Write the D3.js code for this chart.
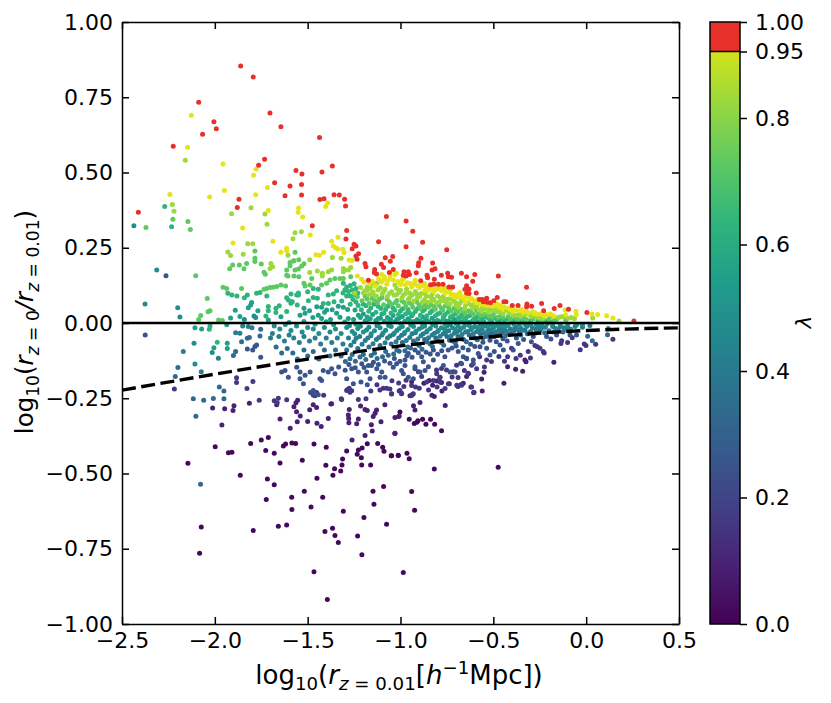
<!DOCTYPE html>
<html>
<head>
<meta charset="utf-8">
<script src="https://cdn.jsdelivr.net/npm/d3@7"></script>
<style>
  html, body { margin: 0; padding: 0; background: #fff; }
  text { font-family: "DejaVu Sans", sans-serif; fill: #000; }
</style>
</head>
<body>
<div id="plot"></div>
<script>
// axis ticks
var xTicks = [-2.5, -2, -1.5, -1, -0.5, 0, 0.5]
var yTicks = [-1, -0.75, -0.5, -0.25, 0, 0.25, 0.5, 0.75, 1]
var barTicks = [0, 0.2, 0.4, 0.6, 0.8, 0.95, 1]
var barLabels = ["0.0", "0.2", "0.4", "0.6", "0.8", "0.95", "1.00"]

// dashed curve
var curveX = [-2.5, -2, -1.5, -1, -0.5, 0, 0.5]
var curveY = [-0.223, -0.17, -0.12, -0.076, -0.045, -0.025, -0.016]

// points [log r, log ratio] grouped by the colour they have in the picture
var lamRed = [[-1.861,.854],[-1.793,.817],[-2.087,.733],[-1.703,.698],[-1.644,.652],[-2.005,.669],[-1.992,.645],[-2.066,.627],[-2.224,.587],[-1.436,.616],[-1.732,.544],[-1.764,.524],[-1.367,.522],[-1.423,.502],[-1.563,.507],[-1.531,.495],[-1.678,.466],[-1.595,.455],[-1.533,.46],[-1.533,.425],[-1.622,.423],[-1.87,.411],[-1.879,.384],[-1.434,.41],[-1.412,.413],[-1.358,.426],[-1.33,.425],[-1.301,.411],[-1.296,.389],[-2.412,.368],[-1.475,.323],[-1.076,.354],[-1.29,.307],[-1.294,.279],[-1.118,.27],[-1.25,.262],[-1.24,.256],[-1.26,.247],[-1.226,.23],[-1.24,.223],[-1.234,.212],[-1.082,.217],[-1.042,.221],[-1.055,.205],[-1.191,.198],[-1.186,.187],[-1.103,.195],[-1.091,.184],[-1.139,.178],[-1.141,.168],[-1.129,.163],[-1.039,.178],[-1.06,.168],[-1.173,.142],[-.97,.339],[-.934,.305],[-.881,.268],[-.97,.253],[-.751,.243],[-.89,.215],[-.902,.2],[-.904,.19],[-.827,.199],[-.814,.18],[-.83,.176],[-.981,.17],[-.958,.17],[-.985,.159],[-.97,.156],[-.952,.161],[-.915,.167],[-.857,.159],[-.854,.15],[-.891,.14],[-.818,.145],[-.78,.159],[-.746,.165],[-.742,.154],[-.725,.152],[-.672,.165],[-.644,.154],[-.6,.161],[-.611,.139],[-.838,.127],[-.82,.129],[-.796,.129],[-.771,.129],[-.739,.12],[-.719,.12],[-.644,.124],[-.631,.113],[-.653,.112],[-.644,.1],[-.631,.098],[-.575,.078],[-.473,.156],[-.592,.1],[-.554,.071],[-.536,.082],[-.533,.069],[-.515,.067],[-.497,.074],[-.479,.085],[-.56,.078],[-.545,.075],[-.443,.071],[-.432,.071],[-.398,.058],[-.367,.058],[-.321,.119],[-.319,.063],[-.321,.054],[-.294,.056],[-.24,.065],[-.229,.041],[-.172,.048],[-.141,.058],[-.095,.046],[.004,.035],[.257,.007]]

var lamYellow = [[-2.127,.69],[-2.147,.584],[-1.956,.528],[-1.778,.511],[-1.791,.491],[-1.717,.45],[-1.949,.44],[-1.78,.426],[-2.242,.427],[-2.028,.419],[-1.712,.374],[-1.549,.382],[-1.551,.368],[-1.527,.352],[-1.392,.399],[-1.403,.387],[-1.85,.316],[-1.486,.292],[-1.371,.272],[-1.337,.285],[-1.687,.272],[-1.902,.266],[-1.613,.248],[-1.613,.24],[-1.644,.235],[-1.455,.227],[-1.437,.225],[-1.414,.235],[-1.362,.256],[-1.349,.25],[-1.338,.246],[-1.304,.234],[-1.311,.245],[-1.277,.209],[-1.261,.208],[-1.232,.156],[-1.209,.145],[-1.197,.135],[-1.101,.161],[-1.087,.154],[-1.056,.167],[-1.03,.161],[-1.021,.165],[-.985,.145],[-.92,.14],[-1.056,.154],[-1.039,.143],[-.99,.144],[-.922,.142],[-.908,.125],[-.863,.121],[-.832,.115],[-.793,.121],[-.766,.117],[-.743,.104],[-.68,.101],[-.689,.085],[-.644,.096],[-.604,.074],[-.594,.067],[-.479,.063],[-.393,.038],[-.348,.045],[-.324,.04],[-.263,.029],[-.227,.024],[-.192,.03],[-.174,.023],[-.114,.043],[-.11,.027],[-.055,.039],[-.053,.028],[.031,.03],[.062,.028],[.11,.024],[.144,.017],[-.704,.086],[-.66,.082],[-.625,.078],[-.56,.062],[-.53,.058],[-.46,.058],[-.44,.052],[-.65,.07],[-.72,.09],[-.76,.1],[-.82,.105],[-.87,.108],[-.94,.12],[-1.0,.128]]
var lamYellowDense = [[-1.168,.131],[-1.152,.139],[-1.137,.122],[-1.118,.147],[-1.103,.136],[-1.092,.144],[-1.074,.129],[-1.067,.141],[-1.013,.138],[-.998,.131],[-.974,.127],[-.962,.134],[-.947,.131],[-.928,.129],[-.899,.117],[-.884,.124],[-.871,.131],[-.853,.108],[-.841,.112],[-.816,.109],[-.804,.113],[-.781,.108],[-.757,.106],[-.729,.097],[-.713,.094],[-.697,.093],[-.671,.088],[-.653,.084],[-.636,.087],[-.617,.081],[-.583,.079],[-.572,.063],[-.547,.059],[-.525,.061],[-.506,.056],[-.491,.057],[-.468,.053],[-.451,.047],[-.418,.049],[-.406,.044],[-.383,.043],[-.361,.041],[-.339,.036],[-.311,.034],[-.287,.037],[-.274,.033],[-.249,.03],[-.213,.028]]

var lamLime = [[-2.159,.541],[-2.229,.394],[-2.22,.371],[-1.805,.383],[-1.91,.363],[-1.73,.362],[-1.719,.328],[-1.568,.3],[-1.534,.303],[-1.579,.28],[-1.823,.263],[-1.796,.263],[-1.93,.236],[-1.915,.224],[-1.847,.228],[-1.703,.181],[-1.698,.198],[-1.689,.187],[-1.606,.225],[-1.367,.218],[-1.32,.215],[-1.489,.21],[-1.489,.168],[-1.448,.173],[-1.421,.165],[-1.389,.17],[-1.371,.176],[-1.421,.156],[-1.308,.181],[-1.299,.176],[-1.268,.184],[-1.308,.17],[-1.281,.176],[-1.03,.126],[-1.021,.115],[-1,.109],[-.967,.112],[-1.179,.12],[-1.164,.115],[-1.128,.132],[-1.146,.126],[-1.179,.11],[-.859,.12],[-.845,.12],[-.904,.124],[-.76,.115],[-.733,.112],[-1.2,.1],[-1.155,.098],[-1.12,.11],[-1.09,.105],[-1.06,.098],[-1.02,.095],[-.985,.092],[-.95,.1],[-.92,.105],[-.89,.098],[-.86,.09],[-.83,.095],[-.8,.09],[-.77,.088],[-.74,.08],[-.71,.072],[-.68,.066],[-.65,.058],[-.62,.06],[-.59,.056],[-.56,.05],[-.52,.048],[-.49,.05],[-.47,.044],[-.43,.042],[-.4,.034],[-.36,.032],[-.3,.03],[-.27,.022],[-.24,.02],[-.14,.02],[-.08,.018],[.035,.017],[.177,.007],[-.95,.085],[-.91,.082],[-.87,.078],[-.83,.075],[-.79,.07],[-.75,.066],[-.7,.058],[-1.13,.09]]
var lamLimeDense = [[-1.247,.099],[-1.216,.118],[-1.193,.107],[-1.172,.094],[-1.147,.103],[-1.136,.089],[-1.109,.117],[-1.098,.097],[-1.083,.112],[-1.071,.088],[-1.048,.104],[-1.034,.092],[-1.009,.101],[-.993,.083],[-.973,.098],[-.958,.079],[-.937,.093],[-.928,.073],[-.913,.096],[-.897,.088],[-.882,.071],[-.867,.097],[-.851,.069],[-.839,.087],[-.821,.079],[-.807,.067],[-.784,.082],[-.768,.074],[-.752,.078],[-.733,.063],[-.719,.078],[-.703,.067],[-.688,.053],[-.672,.074],[-.655,.047],[-.637,.066],[-.612,.049],[-.6,.062],[-.578,.044],[-.561,.038],[-.543,.047],[-.527,.036],[-.508,.042],[-.483,.037],[-.462,.036],[-.447,.031],[-.415,.034],[-.392,.027],[-.374,.026],[-.353,.023],[-.327,.028],[-.298,.022],[-.256,.017],[-.231,.015],[-.182,.022],[-.152,.018],[-.125,.022],[-.098,.016],[-.063,.014]]

var lamGreen = [[-2.371,.317],[-2.145,.337],[-2.226,.345],[-2.132,.311],[-2.103,.157],[-2.041,.081],[-2.026,.041],[-2.037,.037],[-1.784,.239],[-1.784,.215],[-1.784,.204],[-1.75,.196],[-1.904,.193],[-1.868,.193],[-1.829,.198],[-1.843,.18],[-1.92,.18],[-1.595,.201],[-1.574,.207],[-1.568,.176],[-1.613,.176],[-1.613,.159],[-1.574,.156],[-1.735,.169],[-1.728,.162],[-1.956,.119],[-1.936,.115],[-1.856,.115],[-1.568,.235],[-1.577,.206],[-1.595,.19],[-1.548,.21],[-1.52,.197],[-1.532,.189],[-1.55,.179],[-1.606,.156],[-1.548,.154],[-1.52,.132],[-1.514,.123],[-1.478,.148],[-1.425,.126],[-1.398,.132],[-1.38,.143],[-1.353,.148],[-1.326,.148],[-1.308,.148],[-1.268,.154],[-1.487,.126],[-1.735,.112],[-1.721,.115],[-1.703,.118],[-1.685,.119],[-1.667,.121],[-1.644,.126],[-1.619,.123],[-2.076,.025],[-2.087,.012],[-1.98,.01],[-1.96,.008],[-1.18,.08],[-1.14,.075],[-1.1,.085],[-1.06,.07],[-1.02,.075],[-.98,.068],[-.94,.062],[-.9,.06],[-.86,.062],[-.82,.055],[-.78,.05],[-.74,.05],[-.7,.042],[-.66,.04],[-.62,.036],[-.58,.034],[-.54,.03],[-.5,.028],[-.46,.026],[-.42,.022],[-.38,.018],[-.34,.016],[-.2,.014],[-.16,.012],[-.11,.01]]
var lamGreenDense = [[-1.232,.087],[-1.207,.074],[-1.19,.089],[-1.168,.066],[-1.153,.081],[-1.124,.068],[-1.113,.079],[-1.091,.061],[-1.072,.079],[-1.049,.062],[-1.028,.068],[-1.012,.057],[-.992,.073],[-.971,.055],[-.953,.067],[-.934,.052],[-.912,.07],[-.893,.049],[-.876,.055],[-.851,.052],[-.836,.06],[-.813,.046],[-.793,.059],[-.772,.043],[-.758,.057],[-.727,.041],[-.711,.05],[-.691,.036],[-.674,.046],[-.652,.033],[-.633,.041],[-.607,.029],[-.591,.042],[-.569,.026],[-.552,.027],[-.523,.023],[-.507,.021],[-.476,.019],[-.448,.019],[-.408,.015],[-.368,.012],[-.322,.012],[-.287,.013],[-.241,.011],[-.173,.007]]

var lamSea = [[-2.233,.32],[-2.27,.387],[-1.93,.099],[-1.908,.093],[-1.881,.09],[-1.825,.093],[-1.841,.084],[-1.775,.099],[-1.757,.101],[-1.72,.09],[-1.712,.055],[-1.613,.038],[-1.59,.066],[-1.583,.071],[-1.55,.093],[-1.671,.049],[-1.671,.035],[-1.653,.057],[-1.712,.041],[-1.725,.023],[-2.03,-.021],[-2.026,-.01],[-1.987,-.064],[-1.308,.132],[-1.29,.12],[-1.27,.125],[-1.25,.13],[-1.3,.11],[-1.28,.105],[-1.26,.11],[-1.24,.115],[-1.27,.09],[-1.25,.095],[-1.23,.1],[-1.29,.09],[-1.31,.1],[-1.344,.107],[-1.362,.096],[-1.389,.093],[-1.443,.112],[-1.47,.115],[-1.5,.104],[-1.47,.085],[-1.496,.074],[-1.55,.1],[-1.559,.093],[-1.59,.096],[-1.604,.076],[-1.586,.071],[-1.556,.06],[-1.613,.084],[-1.448,.082],[-1.416,.065],[-1.389,.065],[-1.358,.071],[-1.317,.073],[-1.24,.07],[-1.2,.062],[-1.16,.05],[-1.12,.055],[-1.08,.045],[-1.04,.05],[-1,.04],[-.96,.045],[-.92,.038],[-.88,.04],[-.84,.034],[-.8,.03],[-.76,.028],[-.72,.024],[-.68,.02],[-.64,.022],[-.6,.016],[-.56,.014],[-.52,.012],[-.48,.012],[-.44,.01],[-.4,.008],[-.36,.006],[-.3,.006],[-.26,.008],[-.22,.006]]
var lamSeaDense = [[-1.271,.062],[-1.256,.078],[-1.228,.058],[-1.211,.044],[-1.186,.057],[-1.171,.039],[-1.143,.062],[-1.132,.036],[-1.106,.048],[-1.089,.032],[-1.067,.056],[-1.051,.033],[-1.031,.042],[-1.011,.028],[-.989,.047],[-.972,.031],[-.952,.034],[-.934,.029],[-.908,.047],[-.893,.026],[-.871,.045],[-.858,.024],[-.829,.041],[-.812,.024],[-.787,.033],[-.769,.02],[-.744,.036],[-.731,.019],[-.704,.03],[-.688,.016],[-.667,.028],[-.655,.015],[-.627,.025],[-.608,.011],[-.583,.022],[-.566,.009],[-.537,.019],[-.493,.017],[-.457,.015],[-.419,.013],[-.38,.01],[-.335,.008],[-.196,.005]]

var lamTeal = [[-1.89,.042],[-1.82,.051],[-1.802,.068],[-1.807,.06],[-1.768,.041],[-1.915,.017],[-1.865,.022],[-1.712,.01],[-2.107,-.016],[-2.071,-.02],[-1.936,-.006],[-1.933,-.067],[-1.933,-.085],[-2.005,-.082],[-1.451,.054],[-1.425,.052],[-1.398,.043],[-1.335,.056],[-1.308,.052],[-1.285,.045],[-1.52,.049],[-1.541,.026],[-1.514,.032],[-1.644,.021],[-1.443,.026],[-1.425,.015],[-1.344,.032],[-1.326,.019],[-1.281,.015],[-1.245,.043],[-1.227,.026],[-1.2,.03],[-1.18,.02],[-1.15,.028],[-1.12,.015],[-1.1,.03],[-1.07,.018],[-1.04,.025],[-1.02,.012],[-.99,.022],[-.96,.014],[-.94,.024],[-.91,.012],[-.88,.02],[-.86,.01],[-.83,.016],[-.8,.008],[-.77,.014],[-.74,.006],[-.71,.012],[-.68,.005],[-.65,.01],[-.62,.004],[-.59,.006],[-.55,.003],[-.51,.004],[-.47,.003],[-1.6,.002],[-1.52,.005],[-1.46,-.004],[-1.4,.004],[-1.36,-.006],[-1.3,.003],[-1.24,-.004],[-1.18,.004],[-1.12,-.003],[-1.06,.004],[-1,-.002],[-.94,.003],[-.88,-.003],[-.82,.002],[-.76,-.003],[-.7,-.002],[-.64,-.004]]
var lamTealDense = [[-1.253,.012],[-1.216,.018],[-1.191,.007],[-1.163,.014],[-1.133,.008],[-1.108,.016],[-1.087,.006],[-1.053,.012],[-1.029,.004],[-1.008,.016],[-.977,.006],[-.951,.008],[-.927,.005],[-.896,.007],[-.872,.005],[-.846,.004],[-.814,.006],[-.788,.004],[-.755,.007],[-.727,.003],[-.696,.004],[-.669,.003],[-.634,.002],[-1.377,.012],[-1.409,.036],[-1.472,.018],[-1.49,.041],[-1.368,.044]]

var lamCyan = [[-2.436,.323],[-2.313,.176],[-2.376,.063],[-2.2,.051],[-2.188,.02],[-2.112,-.067],[-2.014,-.098],[-2.107,-.136],[-1.841,.012],[-1.789,.023],[-1.78,.018],[-1.68,-.01],[-1.65,-.02],[-1.62,-.005],[-1.59,-.025],[-1.56,-.01],[-1.53,-.03],[-1.5,-.015],[-1.47,-.02],[-1.44,-.035],[-1.41,-.015],[-1.38,-.03],[-1.35,-.02],[-1.32,-.035],[-1.29,-.015],[-1.26,-.028],[-1.23,-.018],[-1.2,-.03],[-1.17,-.014],[-1.14,-.026],[-1.11,-.016],[-1.08,-.024],[-1.05,-.012],[-1.02,-.025],[-.99,-.012],[-.96,-.022],[-.93,-.012],[-.9,-.02],[-.87,-.01],[-.84,-.018],[-.81,-.01],[-.78,-.016],[-.75,-.01],[-.72,-.016],[-.69,-.01],[-.66,-.014],[-.63,-.008],[-.6,-.012],[-.57,-.006],[-.54,-.01],[-.51,-.005],[-.48,-.008],[-.45,-.004],[-.42,-.008],[-.39,-.004],[-.36,-.006],[-.33,-.004],[-.3,-.006],[-.27,-.004],[-.24,-.006],[-.21,-.003],[-.18,-.005],[-.14,-.004],[-.1,-.004],[-.05,-.005],[-.02,-.006]]
var lamCyanDense = [[-1.275,-.009],[-1.247,-.036],[-1.216,-.011],[-1.183,-.023],[-1.158,-.036],[-1.127,-.009],[-1.094,-.033],[-1.064,-.008],[-1.034,-.034],[-1.007,-.018],[-.977,-.031],[-.945,-.007],[-.917,-.027],[-.884,-.014],[-.856,-.026],[-.827,-.006],[-.796,-.024],[-.763,-.02],[-.733,-.006],[-.705,-.021],[-.676,-.018],[-.648,-.005],[-.614,-.017],[-.582,-.015],[-.553,-.005],[-.527,-.012],[-.497,-.012],[-.463,-.009],[-.437,-.012]]

var lamBlueTeal = [[-2.17,-.095],[-2.073,-.162],[-1.981,-.117],[-1.888,-.032],[-1.865,-.034],[-1.85,-.01],[-1.82,-.012],[-1.8,-.016],[-1.7,-.05],[-1.69,-.035],[-1.655,-.045],[-1.625,-.06],[-1.6,-.04],[-1.575,-.05],[-1.545,-.065],[-1.52,-.045],[-1.49,-.06],[-1.46,-.05],[-1.43,-.07],[-1.4,-.05],[-1.37,-.065],[-1.34,-.05],[-1.31,-.07],[-1.28,-.05],[-1.25,-.062],[-1.22,-.045],[-1.19,-.058],[-1.16,-.042],[-1.13,-.055],[-1.1,-.04],[-1.07,-.05],[-1.04,-.038],[-1.01,-.05],[-.98,-.035],[-.95,-.048],[-.92,-.032],[-.89,-.042],[-.86,-.03],[-.83,-.04],[-.8,-.028],[-.77,-.036],[-.74,-.026],[-.71,-.034],[-.68,-.024],[-.65,-.03],[-.62,-.022],[-.59,-.028],[-.56,-.02],[-.53,-.025],[-.5,-.016],[-.47,-.022],[-.44,-.015],[-.41,-.02],[-.38,-.014],[-.35,-.018],[-.32,-.012],[-.29,-.016],[-.26,-.012],[-.22,-.014],[-.18,-.012],[-.14,-.012],[-.1,-.014],[-.06,-.012],[-.02,-.014],[.02,-.008],[.119,-.018]]
var lamBlueTealDense = [[-1.268,-.074],[-1.239,-.051],[-1.207,-.071],[-1.176,-.05],[-1.148,-.069],[-1.117,-.048],[-1.083,-.066],[-1.056,-.043],[-1.024,-.062],[-.994,-.041],[-.969,-.058],[-.938,-.036],[-.907,-.053],[-.878,-.036],[-.849,-.049],[-.817,-.034],[-.787,-.044],[-.758,-.032],[-.727,-.042],[-.698,-.03],[-.669,-.038],[-.638,-.028],[-.608,-.036],[-.578,-.027],[-.549,-.033],[-.516,-.024],[-.489,-.03],[-.457,-.02],[-.432,-.027],[-.401,-.022],[-.372,-.022],[-.343,-.024],[-.273,-.02],[-.241,-.018],[-.164,-.018],[-.121,-.016],[-.085,-.02]]

var lamBlue = [[-1.856,-.062],[-1.825,-.051],[-1.814,-.048],[-1.753,-.021],[-1.757,-.043],[-1.888,-.095],[-1.9,-.108],[-2.102,-.31],[-1.67,-.08],[-1.64,-.1],[-1.61,-.085],[-1.58,-.1],[-1.555,-.12],[-1.52,-.09],[-1.5,-.11],[-1.47,-.095],[-1.44,-.12],[-1.41,-.09],[-1.38,-.11],[-1.35,-.09],[-1.32,-.11],[-1.29,-.09],[-1.26,-.105],[-1.23,-.085],[-1.2,-.105],[-1.17,-.08],[-1.14,-.1],[-1.11,-.075],[-1.08,-.095],[-1.05,-.07],[-1.02,-.09],[-.99,-.065],[-.96,-.08],[-.93,-.06],[-.9,-.075],[-.87,-.055],[-.84,-.07],[-.81,-.05],[-.78,-.065],[-.75,-.045],[-.72,-.06],[-.69,-.045],[-.66,-.055],[-.63,-.04],[-.6,-.05],[-.57,-.036],[-.54,-.045],[-.51,-.032],[-.48,-.04],[-.45,-.03],[-.42,-.036],[-.39,-.026],[-.36,-.032],[-.33,-.024],[-.3,-.028],[-.25,-.024],[-.2,-.026],[-.15,-.024],[-.1,-.024],[.033,-.059],[.008,-.044],[.115,-.039],[-2.199,-.148],[-2.213,-.178],[-1.976,-.213],[-1.951,-.226],[-2.116,-.252],[-2.06,-.257],[-2.008,-.251],[-1.951,-.252],[-2.077,-.536]]
var lamBlueDense = [[-1.297,-.128],[-1.272,-.119],[-1.243,-.127],[-1.218,-.113],[-1.187,-.121],[-1.158,-.108],[-1.126,-.118],[-1.097,-.112],[-1.066,-.107],[-1.037,-.103],[-1.007,-.094],[-.976,-.092],[-.946,-.083],[-.917,-.069],[-.884,-.087],[-.857,-.063],[-.828,-.078],[-.796,-.06],[-.767,-.074],[-.736,-.057],[-.705,-.066],[-.676,-.048],[-.645,-.062],[-.616,-.046],[-.586,-.056],[-.557,-.05],[-.527,-.041],[-.497,-.046],[-.466,-.037],[-.436,-.043],[-.406,-.036],[-.352,-.04],[-.317,-.036],[-.27,-.032],[-.224,-.032],[-.175,-.03],[-.125,-.03]]

var lamIndigo = [[-2.375,-.04],[-2.263,.157],[-1.825,-.086],[-1.784,-.078],[-1.775,-.073],[-1.796,-.09],[-1.753,-.114],[-1.64,-.163],[-1.622,-.158],[-1.604,-.18],[-1.559,-.147],[-1.541,-.163],[-1.514,-.174],[-1.487,-.163],[-1.434,-.185],[-1.416,-.158],[-1.389,-.163],[-1.353,-.169],[-1.371,-.152],[-1.425,-.191],[-1.541,-.185],[-1.523,-.202],[-1.478,-.23],[-1.46,-.235],[-1.443,-.238],[-1.47,-.224],[-1.254,-.202],[-1.213,-.196],[-1.179,-.205],[-1.29,-.185],[-1.263,-.152],[-1.227,-.163],[-1.182,-.163],[-1.173,-.141],[-1.209,-.135],[-1.146,-.13],[-1.128,-.152],[-1.101,-.163],[-1.083,-.18],[-1.11,-.18],[-1.164,-.185],[-1.039,-.147],[-1.021,-.135],[-.994,-.158],[-.976,-.141],[-.985,-.169],[-.958,-.18],[-.931,-.185],[-.895,-.163],[-.868,-.158],[-.922,-.152],[-.769,-.141],[-.733,-.163],[-.706,-.163],[-.671,-.135],[-.608,-.135],[-.644,-.119],[-.976,-.123],[-.958,-.101],[-.922,-.09],[-.886,-.112],[-.823,-.09],[-.761,-.112],[-.743,-.09],[-.689,-.095],[-.635,-.09],[-.572,-.079],[-.536,-.084],[-.464,-.073],[-.446,-.09],[-.393,-.09],[-.366,-.068],[-.285,-.045],[-.213,-.045],[-.159,-.04],[-.087,-.04],[-.052,-.04],[-.518,-.106],[-.581,-.101],[-.495,-.095],[-.823,-.123],[-.85,-.145],[-.877,-.129],[-.922,-.145],[-.644,-.117],[-.662,-.112],[-.608,-.123]]
var lamIndigoDense = [[-1.333,-.146],[-1.298,-.157],[-1.278,-.138],[-1.244,-.149],[-1.196,-.148],[-1.156,-.141],[-1.119,-.138],[-1.086,-.126],[-1.057,-.134],[-1.033,-.118],[-1.003,-.127],[-.966,-.109],[-.938,-.114],[-.904,-.099],[-.862,-.097],[-.84,-.103],[-.8,-.104],[-.778,-.092],[-.722,-.083],[-.7,-.076],[-.664,-.082],[-.622,-.071],[-.6,-.078],[-.556,-.064],[-.518,-.057],[-.484,-.062],[-.448,-.052],[-.425,-.06],[-.376,-.05],[-.337,-.055],[-.295,-.062],[-.19,-.053]]

var lamViolet = [[-2.218,-.219],[-1.883,-.198],[-1.883,-.182],[-1.827,-.218],[-1.795,-.194],[-1.761,-.257],[-1.68,-.258],[-1.658,-.25],[-1.664,-.265],[-1.613,-.255],[-1.47,-.239],[-1.461,-.242],[-1.484,-.231],[-1.452,-.231],[-1.414,-.24],[-1.319,-.252],[-1.287,-.222],[-1.263,-.225],[-1.276,-.217],[-1.29,-.224],[-1.272,-.23],[-1.317,-.254],[-1.227,-.254],[-1.186,-.252],[-1.093,-.217],[-1.075,-.217],[-1.111,-.223],[-1.057,-.219],[-1.003,-.224],[-.994,-.235],[-.94,-.241],[-.931,-.235],[-1.048,-.235],[-.994,-.233],[-1.007,-.226],[-1.048,-.236],[-.982,-.211],[-.919,-.213],[-.859,-.196],[-.823,-.191],[-.805,-.169],[-.787,-.18],[-.787,-.196],[-.742,-.202],[-.697,-.207],[-.671,-.207],[-.635,-.169],[-.617,-.213],[-.604,-.23],[-.231,-.095],[-.226,-.1],[-.312,-.095],[-.263,-.079],[-.276,-.075],[-.249,-.084],[-.136,-.068],[-.132,-.059],[-.1,-.065],[-.075,-.049],[-.032,-.089],[-.01,-.07],[-.001,-.075],[.051,-.071],[.144,-.054],[-.423,-.112],[-.402,-.084],[-.536,-.123],[-.617,-.14],[-.698,-.14],[-.676,-.134],[-.716,-.162],[-.752,-.156],[-.779,-.151],[-.806,-.156],[-.788,-.181],[-.886,-.178],[-.904,-.162]]
var lamVioletDense = [[-1.16,-.226],[-1.127,-.205],[-1.046,-.192],[-1.01,-.199],[-.97,-.19],[-.94,-.208],[-.899,-.217],[-.849,-.223],[-.803,-.213],[-.76,-.218],[-.722,-.179],[-.69,-.181],[-.656,-.158],[-.59,-.152],[-.574,-.112],[-.548,-.146],[-.51,-.128],[-.47,-.111],[-.44,-.127],[-.378,-.118],[-.355,-.107],[-.3,-.116]]

var lamPurple = [[-2.012,-.282],[-1.947,-.285],[-1.897,-.275],[-1.902,-.291],[-1.814,-.267],[-1.667,-.272],[-1.554,-.257],[-1.563,-.265],[-1.574,-.278],[-1.56,-.295],[-1.54,-.309],[-1.556,-.328],[-1.649,-.319],[-1.594,-.35],[-1.5,-.327],[-1.489,-.288],[-1.47,-.272],[-1.452,-.281],[-1.45,-.333],[-1.427,-.344],[-1.389,-.317],[-1.375,-.269],[-1.276,-.287],[-1.281,-.306],[-1.279,-.317],[-1.278,-.331],[-1.227,-.319],[-1.236,-.335],[-1.215,-.276],[-1.191,-.287],[-1.179,-.291],[-1.129,-.289],[-1.137,-.3],[-1.147,-.311],[-1.105,-.328],[-1.157,-.338],[-1.152,-.359],[-1.191,-.374],[-1.261,-.389],[-1.084,-.272],[-1.03,-.314],[-1.007,-.309],[-1.03,-.367],[-1.962,-.339],[-1.371,-.268],[-.93,-.275],[-.922,-.289],[-.895,-.264],[-.759,-.274],[-.831,-.24],[-.818,-.244],[-.949,-.242],[-.935,-.237],[-.777,-.226],[-.606,-.232],[-.56,-.226],[-.621,-.213],[-.691,-.211],[-.676,-.205],[-.662,-.2],[-.737,-.202],[-.827,-.207],[-.874,-.2],[-.779,-.198],[-.806,-.193],[-.845,-.191],[-.94,-.195],[-.443,-.2],[-.174,-.13],[-.342,-.16],[-.38,-.154],[-.423,-.145],[-.55,-.164],[-.563,-.186],[-.635,-.167],[-.644,-.178],[-.33,-.123],[-.324,-.129]]

var lamDark = [[-1.998,-.411],[-1.927,-.431],[-1.908,-.429],[-1.807,-.4],[-1.75,-.389],[-1.712,-.38],[-1.726,-.424],[-1.68,-.433],[-1.619,-.402],[-1.631,-.409],[-1.585,-.399],[-1.565,-.4],[-1.466,-.402],[-1.4,-.413],[-1.649,-.465],[-1.529,-.456],[-2.145,-.466],[-1.863,-.506],[-1.717,-.518],[-1.68,-.537],[-1.45,-.516],[-1.364,-.506],[-1.355,-.484],[-1.322,-.492],[-1.315,-.472],[-1.312,-.452],[-1.402,-.473],[-1.29,-.425],[-1.233,-.436],[-1.227,-.422],[-1.207,-.415],[-1.179,-.401],[-1.211,-.448],[-1.209,-.472],[-1.161,-.472],[-1.123,-.4],[-1.096,-.413],[-1.089,-.426],[-1.05,-.441],[-1.012,-.44],[-1.091,-.543],[-1.148,-.559],[-1.143,-.602],[-1.075,-.669],[-1.197,-.646],[-1.231,-.708],[-1.208,-.77],[-1.308,-.625],[-1.335,-.729],[-1.353,-.706],[-1.366,-.682],[-1.407,-.693],[-1.466,-.826],[-1.394,-.919],[-1.518,-.559],[-1.419,-.579],[-1.482,-.611],[-1.586,-.579],[-1.585,-.62],[-1.723,-.586],[-1.613,-.671],[-1.658,-.675],[-1.793,-.689],[-2.073,-.678],[-2.082,-.765],[-.474,-.479],[-.818,-.485],[-.94,-.56],[-.924,-.622],[-.985,-.829],[-.779,-.358],[-1.03,-.366],[-1.048,-.441],[-1.012,-.439],[-.965,-.433],[-.953,-.451],[-1.01,-.311],[-1.003,-.296],[-.953,-.32],[-.926,-.334],[-.912,-.33],[-.906,-.325],[-.881,-.32],[-.838,-.32],[-.863,-.336],[-.816,-.336]]

// lambda value of every group, in drawing order
var groups = [lamDark, lamPurple, lamViolet.concat(lamVioletDense), lamIndigo.concat(lamIndigoDense), lamBlue.concat(lamBlueDense), lamBlueTeal.concat(lamBlueTealDense), lamCyan.concat(lamCyanDense), lamTeal.concat(lamTealDense), lamSea.concat(lamSeaDense), lamGreen.concat(lamGreenDense), lamLime.concat(lamLimeDense), lamYellow.concat(lamYellowDense), lamRed]
var groupLambda = [0.02, 0.09, 0.16, 0.26, 0.34, 0.42, 0.49, 0.57, 0.65, 0.75, 0.85, 0.96, 1]

var redColor = "#e8302a"

// define svg sizes
var w = 831
var h = 703
var plot = {left: 122, right: 679, top: 22, bottom: 624}
var bar = {left: 710, right: 740, top: 22, bottom: 624}

var svg = d3.select("#plot")
  .append("svg")
  .attr("width", w)
  .attr("height", h)

// scales
var xScale = d3.scaleLinear().domain([-2.5, 0.5]).range([plot.left, plot.right])
var yScale = d3.scaleLinear().domain([-1, 1]).range([plot.bottom, plot.top])
// the colorbar is not linear at the top end, 0.95 sits above where 0.9 would be
var barScale = d3.scaleLinear().domain([0, 0.8, 0.95, 1]).range([624, 118, 51.5, 22])

var pointColor = function(lambda) {
  return lambda >= 1 ? redColor : d3.interpolateViridis(lambda)
}

var minus = function(s) { return s.replace("-", "\u2212") }

// draw points
groups.forEach(function(points, i) {
  svg.append("g")
    .selectAll("circle")
    .data(points)
    .enter()
    .append("circle")
    .attr("cx", function(d) { return xScale(d[0]) })
    .attr("cy", function(d) { return yScale(d[1]) })
    .attr("r", 2.5)
    .attr("fill", pointColor(groupLambda[i]))
})

// zero line and dashed curve
svg.append("line")
  .attr("x1", xScale(-2.5))
  .attr("x2", xScale(0.5))
  .attr("y1", yScale(0))
  .attr("y2", yScale(0))
  .attr("stroke", "#000")
  .attr("stroke-width", 2.6)

var curve = d3.line()
  .x(function(d) { return xScale(d) })
  .y(function(d, i) { return yScale(curveY[i]) })
  .curve(d3.curveMonotoneX)

svg.append("path")
  .attr("d", curve(curveX))
  .attr("fill", "none")
  .attr("stroke", "#000")
  .attr("stroke-width", 3.4)
  .attr("stroke-dasharray", "14,5.5")

// draw axes, ticks point inward on all four sides
function styleAxis(g) {
  g.selectAll("path").attr("stroke", "#000").attr("stroke-width", 1.5)
  g.selectAll("line").attr("stroke", "#000").attr("stroke-width", 1.5)
  g.selectAll("text").style("font-size", "22px").attr("fill", "#000")
}

svg.append("g")
  .attr("transform", "translate(0," + plot.bottom + ")")
  .call(d3.axisBottom(xScale).tickValues(xTicks).tickSizeInner(-7).tickSizeOuter(0).tickPadding(8)
    .tickFormat(function(d) { return minus(d3.format(".1f")(d)) }))
  .call(styleAxis)

svg.append("g")
  .attr("transform", "translate(0," + plot.top + ")")
  .call(d3.axisTop(xScale).tickValues(xTicks).tickSizeInner(-7).tickSizeOuter(0).tickFormat(""))
  .call(styleAxis)

svg.append("g")
  .attr("transform", "translate(" + plot.left + ",0)")
  .call(d3.axisLeft(yScale).tickValues(yTicks).tickSizeInner(-7).tickSizeOuter(0).tickPadding(9)
    .tickFormat(function(d) { return minus(d3.format(".2f")(d)) }))
  .call(styleAxis)

svg.append("g")
  .attr("transform", "translate(" + plot.right + ",0)")
  .call(d3.axisRight(yScale).tickValues(yTicks).tickSizeInner(-7).tickSizeOuter(0).tickFormat(""))
  .call(styleAxis)

// colorbar gradient, runs up the viridis map and stops short of the yellow end
var grad = svg.append("defs").append("linearGradient")
  .attr("id", "viridisBar")
  .attr("x1", 0).attr("x2", 0).attr("y1", 1).attr("y2", 0)

d3.range(0, 11).forEach(function(i) {
  grad.append("stop")
    .attr("offset", (i * 10) + "%")
    .attr("stop-color", d3.interpolateViridis(i / 10 * 0.93))
})

svg.append("rect")
  .attr("x", bar.left)
  .attr("y", barScale(0.95))
  .attr("width", bar.right - bar.left)
  .attr("height", barScale(0) - barScale(0.95))
  .attr("fill", "url(#viridisBar)")

svg.append("rect")
  .attr("x", bar.left)
  .attr("y", barScale(1))
  .attr("width", bar.right - bar.left)
  .attr("height", barScale(0.95) - barScale(1))
  .attr("fill", redColor)

svg.append("line")
  .attr("x1", bar.left).attr("x2", bar.right)
  .attr("y1", barScale(0.95)).attr("y2", barScale(0.95))
  .attr("stroke", "#000")
  .attr("stroke-width", 1.5)

svg.append("rect")
  .attr("x", bar.left)
  .attr("y", bar.top)
  .attr("width", bar.right - bar.left)
  .attr("height", bar.bottom - bar.top)
  .attr("fill", "none")
  .attr("stroke", "#000")
  .attr("stroke-width", 1.5)

svg.append("g")
  .attr("transform", "translate(" + bar.right + ",0)")
  .call(d3.axisRight(barScale).tickValues(barTicks).tickSizeInner(7).tickSizeOuter(0).tickPadding(8)
    .tickFormat(function(d, i) { return barLabels[i] }))
  .call(styleAxis)
  .select("path").remove()

// axis labels built from pieces, [text, italic, shift]
var xLabel = [["log", 0, 0], ["10", 0, 1], ["(", 0, 0], ["r", 1, 0], ["z", 1, 1], [" = 0.01", 0, 1], ["[", 0, 0], ["h", 1, 0], ["\u22121", 0, -1], ["Mpc", 0, 0], ["])", 0, 0]]
var yLabel = [["log", 0, 0], ["10", 0, 1], ["(", 0, 0], ["r", 1, 0], ["z", 1, 1], [" = 0", 0, 1], ["/", 1, 0], ["r", 1, 0], ["z", 1, 1], [" = 0.01", 0, 1], [")", 0, 0]]

function mathLabel(parts, size, transform) {
  var t = svg.append("text")
    .attr("transform", transform)
    .attr("text-anchor", "middle")
    .style("font-size", size + "px")
    .attr("xml:space", "preserve")
  var last = 0
  parts.forEach(function(p) {
    var shift = p[2] == 1 ? 6 : (p[2] == -1 ? -10 : 0)
    t.append("tspan")
      .attr("dy", shift - last)
      .style("font-style", p[1] ? "italic" : "normal")
      .style("font-size", (p[2] != 0 ? size * 0.7 : size) + "px")
      .text(p[0])
    last = shift
  })
}

mathLabel(xLabel, 26, "translate(399,684)")
mathLabel(yLabel, 24.5, "translate(33,322) rotate(-90)")

// lambda label of the colorbar
svg.append("text")
  .attr("transform", "translate(811,322) rotate(-90)")
  .attr("text-anchor", "middle")
  .style("font-size", "21px")
  .style("font-style", "italic")
  .text("\u03bb")
</script>
</body>
</html>
